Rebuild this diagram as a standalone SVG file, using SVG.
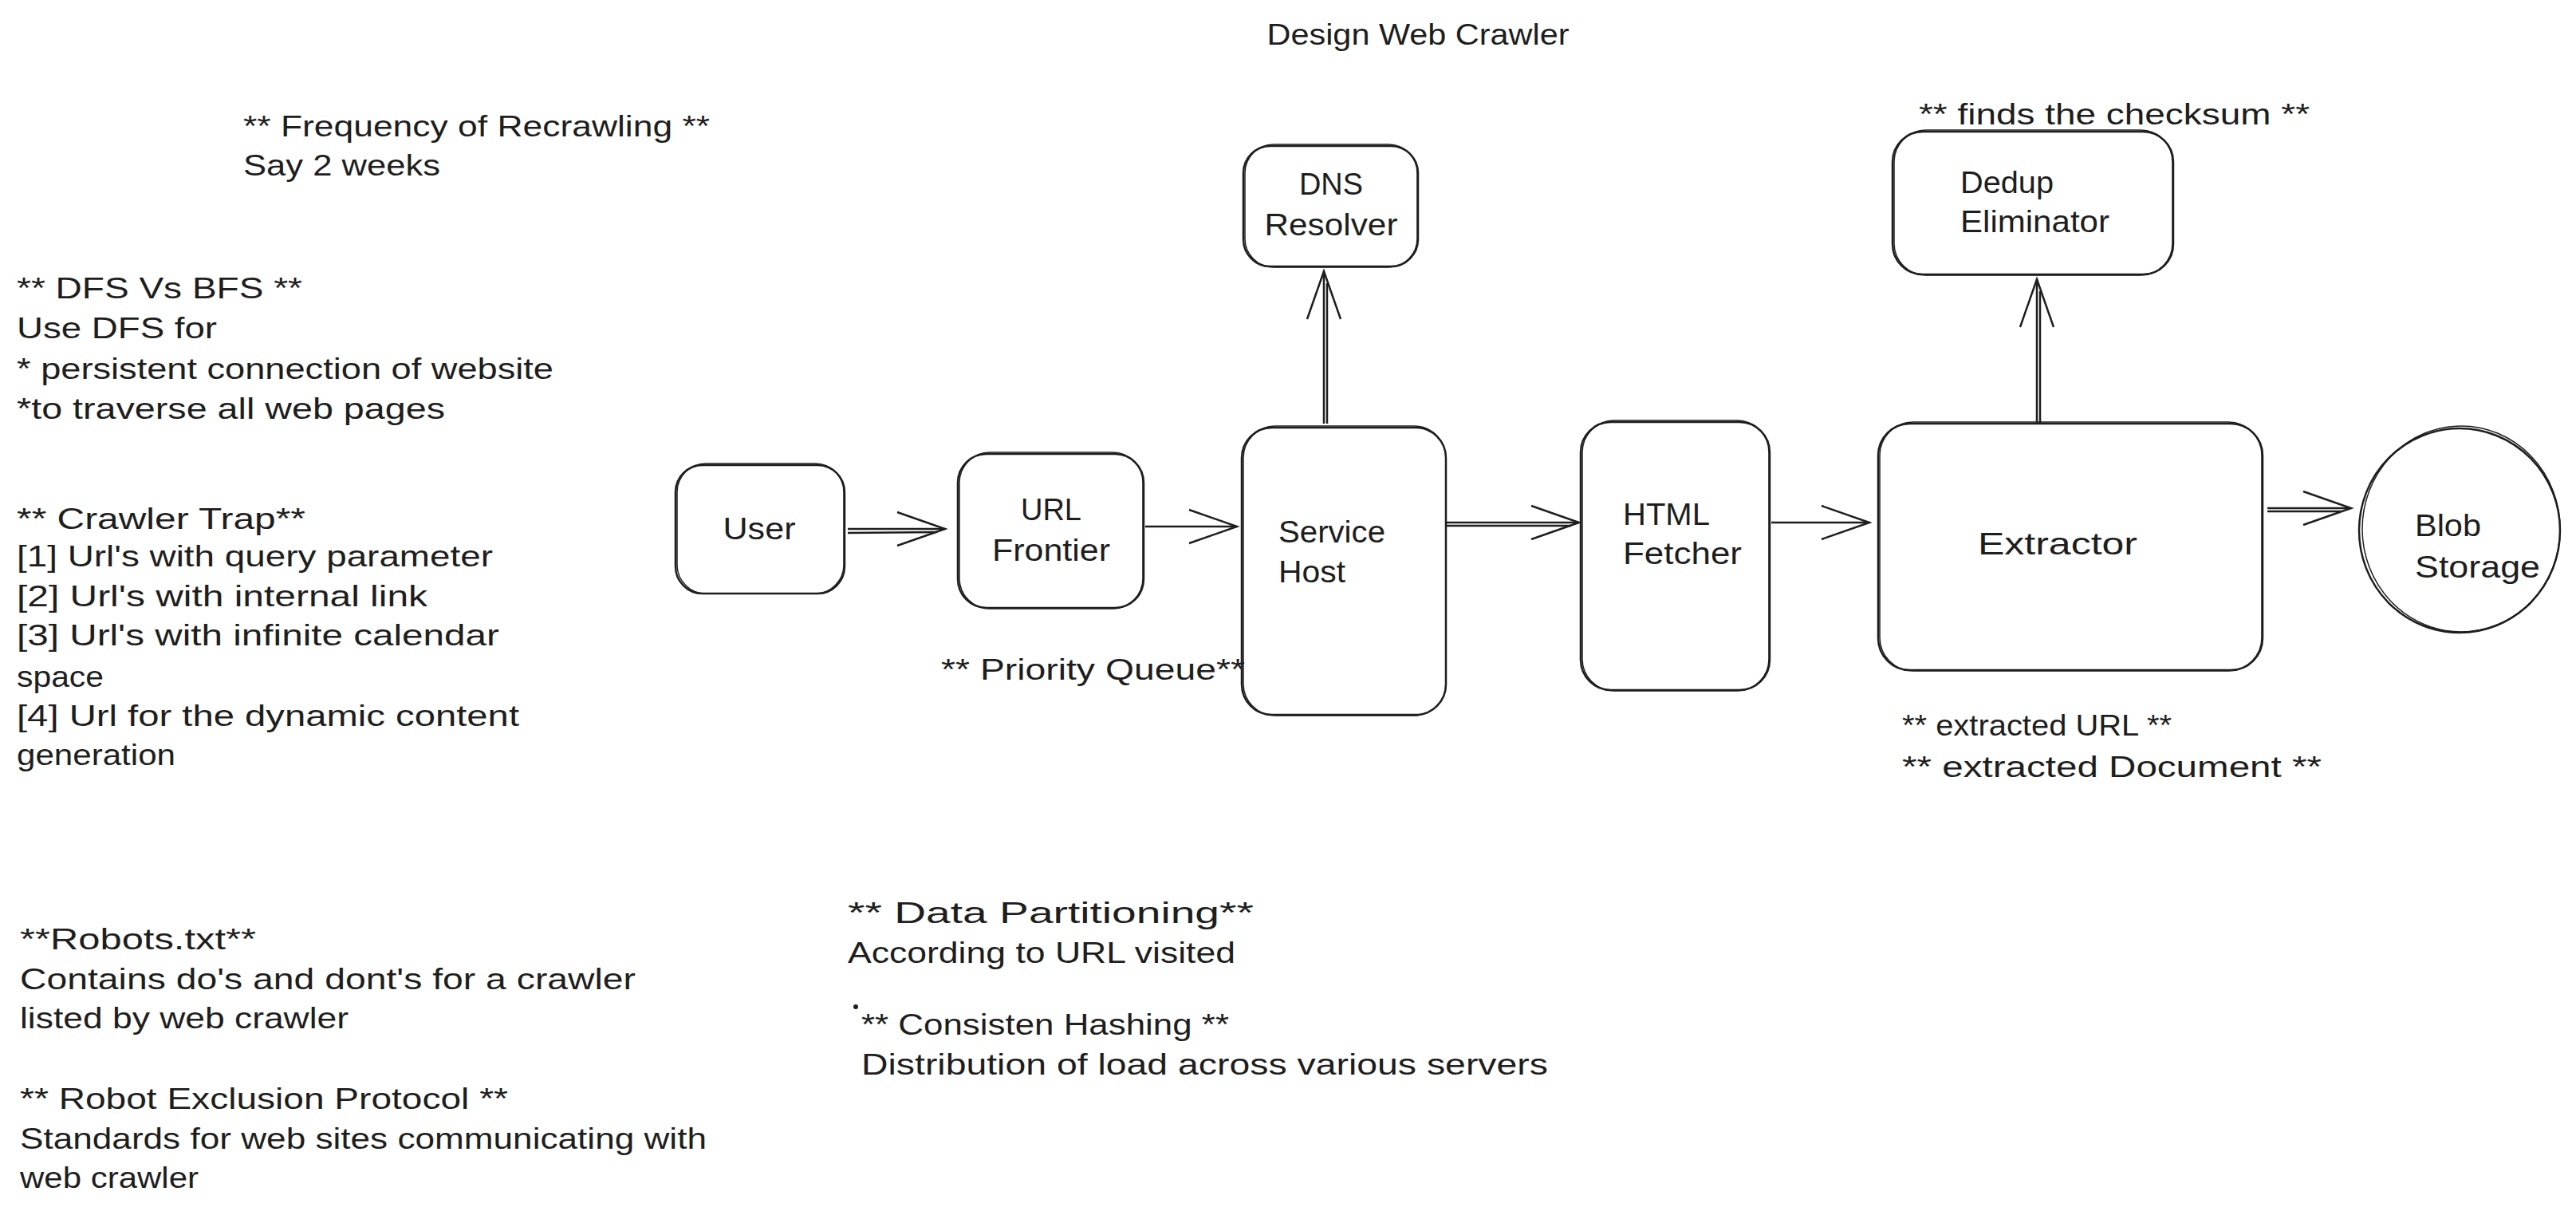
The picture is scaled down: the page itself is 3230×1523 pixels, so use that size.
<svg xmlns="http://www.w3.org/2000/svg" width="3230" height="1523" viewBox="0 0 3230 1523">
<defs>
<style>
.t{font-family:"Liberation Sans","DejaVu Sans",sans-serif;font-size:36px;fill:#1e1e1e}
.n{font-size:38px}
.c{text-anchor:middle}
.b{fill:#fff;stroke:#1e1e1e;stroke-width:2.5}
.b2{fill:none;stroke:#1e1e1e;stroke-width:1.5}
.a{fill:none;stroke:#1e1e1e;stroke-width:2.5}
</style>
<marker id="ah" markerUnits="userSpaceOnUse" markerWidth="70" markerHeight="50" refX="66" refY="25" orient="auto" viewBox="0 0 70 50">
<path d="M6 4 L66 25 L6 46" fill="none" stroke="#1e1e1e" stroke-width="2.5"/>
</marker>
</defs>
<rect width="3230" height="1523" fill="#fff"/>

<g id="connectors">
<path class="a" d="M1063 663 L1185 663" marker-end="url(#ah)"/>
<path class="a" d="M1063 668 L1175 667"/>
<path class="a" d="M1436 660 L1551 660" marker-end="url(#ah)"/>
<path class="a" d="M1660 531 L1660 340" marker-end="url(#ah)"/>
<path class="a" d="M1664 531 L1664 355"/>
<path class="a" d="M1813 655 L1980 655" marker-end="url(#ah)"/>
<path class="a" d="M1813 659 L1970 659"/>
<path class="a" d="M2221 655 L2344 655" marker-end="url(#ah)"/>
<path class="a" d="M2554 531 L2554 350" marker-end="url(#ah)"/>
<path class="a" d="M2558 531 L2558 365"/>
<path class="a" d="M2843 637 L2948 637" marker-end="url(#ah)"/>
<path class="a" d="M2843 641 L2935 641"/>
</g>

<g id="node-user">
<rect class="b" x="847" y="583" width="212" height="161" rx="34"/>
<rect class="b2" x="849" y="581" width="209" height="163" rx="36"/>
<text class="t n c" x="952" y="676" textLength="91" lengthAdjust="spacingAndGlyphs">User</text>
</g>
<g id="node-url-frontier">
<rect class="b" x="1201" y="569" width="233" height="193" rx="36"/>
<rect class="b2" x="1203" y="567" width="230" height="196" rx="38"/>
<text class="t n c" x="1318" y="652" textLength="76" lengthAdjust="spacingAndGlyphs">URL</text>
<text class="t n c" x="1318" y="703" textLength="148" lengthAdjust="spacingAndGlyphs">Frontier</text>
</g>
<g id="node-service-host">
<rect class="b" x="1557" y="536" width="256" height="360" rx="38"/>
<rect class="b2" x="1559" y="534" width="254" height="363" rx="40"/>
<text class="t n" x="1603" y="680" textLength="134" lengthAdjust="spacingAndGlyphs">Service</text>
<text class="t n" x="1603" y="730" textLength="84" lengthAdjust="spacingAndGlyphs">Host</text>
</g>
<g id="node-dns">
<rect class="b" x="1559" y="183" width="219" height="151" rx="34"/>
<rect class="b2" x="1561" y="181" width="216" height="154" rx="36"/>
<text class="t n c" x="1669" y="244" textLength="80" lengthAdjust="spacingAndGlyphs">DNS</text>
<text class="t n c" x="1669" y="295" textLength="167" lengthAdjust="spacingAndGlyphs">Resolver</text>
</g>
<g id="node-html-fetcher">
<rect class="b" x="1982" y="529" width="237" height="336" rx="38"/>
<rect class="b2" x="1984" y="527" width="234" height="339" rx="40"/>
<text class="t n" x="2035" y="658" textLength="109" lengthAdjust="spacingAndGlyphs">HTML</text>
<text class="t n" x="2035" y="707" textLength="149" lengthAdjust="spacingAndGlyphs">Fetcher</text>
</g>
<g id="node-extractor">
<rect class="b" x="2355" y="531" width="482" height="309" rx="40"/>
<rect class="b2" x="2357" y="529" width="479" height="312" rx="42"/>
<text class="t n c" x="2580" y="695" textLength="200" lengthAdjust="spacingAndGlyphs">Extractor</text>
</g>
<g id="node-dedup">
<rect class="b" x="2373" y="165" width="352" height="179" rx="38"/>
<rect class="b2" x="2375" y="163" width="349" height="182" rx="40"/>
<text class="t n" x="2458" y="242" textLength="117" lengthAdjust="spacingAndGlyphs">Dedup</text>
<text class="t n" x="2458" y="291" textLength="187" lengthAdjust="spacingAndGlyphs">Eliminator</text>
</g>
<g id="node-blob">
<ellipse class="b" cx="3084" cy="665" rx="126" ry="128"/>
<ellipse class="b2" cx="3086" cy="663" rx="124" ry="129"/>
<text class="t n" x="3028" y="672" textLength="83" lengthAdjust="spacingAndGlyphs">Blob</text>
<text class="t n" x="3028" y="724" textLength="157" lengthAdjust="spacingAndGlyphs">Storage</text>
</g>

<g id="notes">
<text class="t c" x="1778" y="56" textLength="379" lengthAdjust="spacingAndGlyphs">Design Web Crawler</text>
<text class="t" x="305" y="171" textLength="585" lengthAdjust="spacingAndGlyphs">** Frequency of Recrawling **</text>
<text class="t" x="305" y="220" textLength="247" lengthAdjust="spacingAndGlyphs">Say 2 weeks</text>
<text class="t" x="21" y="374" textLength="358" lengthAdjust="spacingAndGlyphs">** DFS Vs BFS **</text>
<text class="t" x="21" y="424" textLength="251" lengthAdjust="spacingAndGlyphs">Use DFS for</text>
<text class="t" x="21" y="475" textLength="673" lengthAdjust="spacingAndGlyphs">* persistent connection of website</text>
<text class="t" x="21" y="525" textLength="537" lengthAdjust="spacingAndGlyphs">*to traverse all web pages</text>
<text class="t" x="21" y="663" textLength="362" lengthAdjust="spacingAndGlyphs">** Crawler Trap**</text>
<text class="t" x="21" y="710" textLength="597" lengthAdjust="spacingAndGlyphs">[1] Url's with query parameter</text>
<text class="t" x="21" y="760" textLength="515" lengthAdjust="spacingAndGlyphs">[2] Url's with internal link</text>
<text class="t" x="21" y="809" textLength="605" lengthAdjust="spacingAndGlyphs">[3] Url's with infinite calendar</text>
<text class="t" x="21" y="861" textLength="109" lengthAdjust="spacingAndGlyphs">space</text>
<text class="t" x="21" y="910" textLength="630" lengthAdjust="spacingAndGlyphs">[4] Url for the dynamic content</text>
<text class="t" x="21" y="959" textLength="199" lengthAdjust="spacingAndGlyphs">generation</text>
<text class="t" x="25" y="1190" textLength="296" lengthAdjust="spacingAndGlyphs">**Robots.txt**</text>
<text class="t" x="25" y="1240" textLength="772" lengthAdjust="spacingAndGlyphs">Contains do's and dont's for a crawler</text>
<text class="t" x="25" y="1289" textLength="412" lengthAdjust="spacingAndGlyphs">listed by web crawler</text>
<text class="t" x="25" y="1390" textLength="612" lengthAdjust="spacingAndGlyphs">** Robot Exclusion Protocol **</text>
<text class="t" x="25" y="1440" textLength="861" lengthAdjust="spacingAndGlyphs">Standards for web sites communicating with</text>
<text class="t" x="25" y="1489" textLength="224" lengthAdjust="spacingAndGlyphs">web crawler</text>
<text class="t" x="1063" y="1157" textLength="509" lengthAdjust="spacingAndGlyphs">** Data Partitioning**</text>
<text class="t" x="1063" y="1207" textLength="486" lengthAdjust="spacingAndGlyphs">According to URL visited</text>
<circle cx="1073" cy="1262" r="3" fill="#1e1e1e"/>
<text class="t" x="1080" y="1297" textLength="461" lengthAdjust="spacingAndGlyphs">** Consisten Hashing **</text>
<text class="t" x="1080" y="1347" textLength="861" lengthAdjust="spacingAndGlyphs">Distribution of load across various servers</text>
<text class="t" x="1180" y="852" textLength="381" lengthAdjust="spacingAndGlyphs">** Priority Queue**</text>
<text class="t" x="2406" y="156" textLength="490" lengthAdjust="spacingAndGlyphs">** finds the checksum **</text>
<text class="t" x="2385" y="922" textLength="338" lengthAdjust="spacingAndGlyphs">** extracted URL **</text>
<text class="t" x="2385" y="974" textLength="526" lengthAdjust="spacingAndGlyphs">** extracted Document **</text>
</g>
</svg>
